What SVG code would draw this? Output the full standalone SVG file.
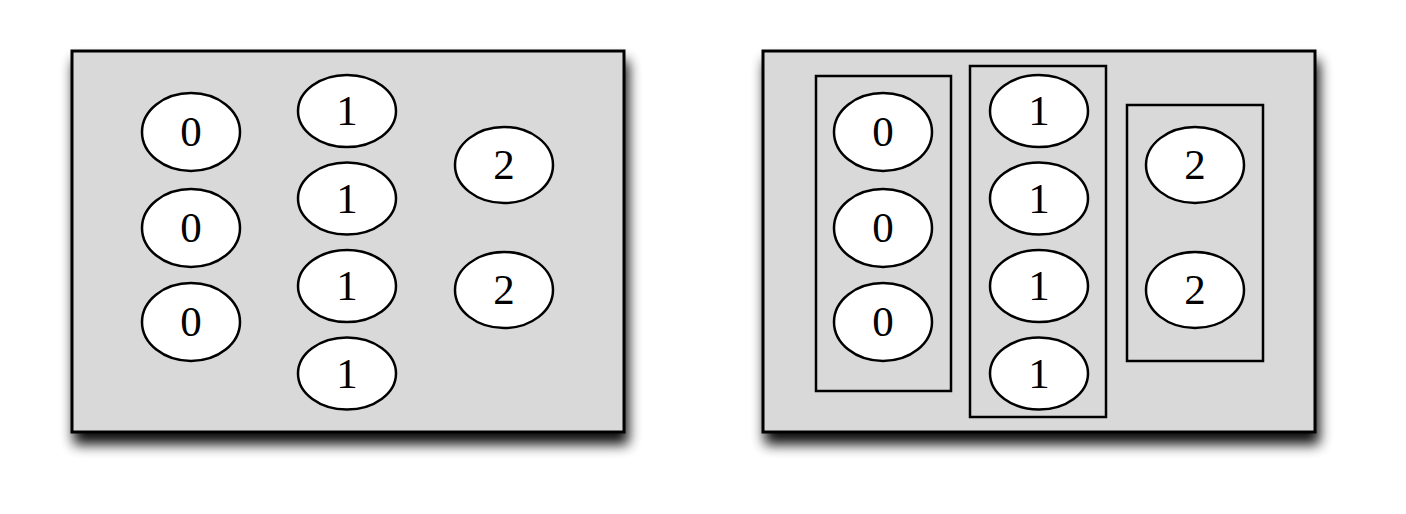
<svg xmlns="http://www.w3.org/2000/svg" width="1406" height="514" viewBox="0 0 1406 514">
<defs>
<filter id="sh" x="-10%" y="-10%" width="120%" height="135%">
<feGaussianBlur in="SourceAlpha" stdDeviation="6.5"/>
<feOffset dx="3" dy="11" result="b"/>
<feComponentTransfer><feFuncA type="linear" slope="0.95"/></feComponentTransfer>
<feMerge><feMergeNode/><feMergeNode in="SourceGraphic"/></feMerge>
</filter>
</defs>
<style>
.panel{fill:#d9d9d9;stroke:#000;stroke-width:3}
.grp{fill:none;stroke:#000;stroke-width:2.5}
.n ellipse{fill:#fff;stroke:#000;stroke-width:2.5}
.n text{font-family:"Liberation Serif","Times New Roman",serif;font-size:43px;text-anchor:middle;fill:#000}
</style>
<rect width="1406" height="514" fill="#fff"/>
<g id="panel-left">
<rect class="panel" x="72" y="51" width="552" height="381" filter="url(#sh)"/>
</g>
<g id="panel-right">
<rect class="panel" x="763" y="51" width="552" height="381" filter="url(#sh)"/>
<rect class="grp" x="816" y="76" width="135" height="315"/>
<rect class="grp" x="970" y="66" width="136" height="351"/>
<rect class="grp" x="1127" y="105" width="136" height="256"/>
</g>
<g id="connectors"></g>
<g id="L0a" class="n"><ellipse cx="191" cy="132" rx="49" ry="39"/><text x="191" y="146">0</text></g>
<g id="L0b" class="n"><ellipse cx="191" cy="228" rx="49" ry="39"/><text x="191" y="242">0</text></g>
<g id="L0c" class="n"><ellipse cx="191" cy="322" rx="49" ry="39"/><text x="191" y="336">0</text></g>
<g id="L1a" class="n"><ellipse cx="347" cy="111" rx="49" ry="36"/><text x="347" y="125">1</text></g>
<g id="L1b" class="n"><ellipse cx="347" cy="198.5" rx="49" ry="36"/><text x="347" y="212.5">1</text></g>
<g id="L1c" class="n"><ellipse cx="347" cy="286" rx="49" ry="36"/><text x="347" y="300">1</text></g>
<g id="L1d" class="n"><ellipse cx="347" cy="373.5" rx="49" ry="36"/><text x="347" y="387.5">1</text></g>
<g id="L2a" class="n"><ellipse cx="504" cy="165" rx="49" ry="38"/><text x="504" y="179">2</text></g>
<g id="L2b" class="n"><ellipse cx="504" cy="290" rx="49" ry="38"/><text x="504" y="304">2</text></g>
<g id="R0a" class="n"><ellipse cx="883" cy="132" rx="49" ry="39"/><text x="883" y="146">0</text></g>
<g id="R0b" class="n"><ellipse cx="883" cy="228" rx="49" ry="39"/><text x="883" y="242">0</text></g>
<g id="R0c" class="n"><ellipse cx="883" cy="322" rx="49" ry="39"/><text x="883" y="336">0</text></g>
<g id="R1a" class="n"><ellipse cx="1039" cy="111" rx="49" ry="36"/><text x="1039" y="125">1</text></g>
<g id="R1b" class="n"><ellipse cx="1039" cy="198.5" rx="49" ry="36"/><text x="1039" y="212.5">1</text></g>
<g id="R1c" class="n"><ellipse cx="1039" cy="286" rx="49" ry="36"/><text x="1039" y="300">1</text></g>
<g id="R1d" class="n"><ellipse cx="1039" cy="373.5" rx="49" ry="36"/><text x="1039" y="387.5">1</text></g>
<g id="R2a" class="n"><ellipse cx="1195" cy="165" rx="49" ry="38"/><text x="1195" y="179">2</text></g>
<g id="R2b" class="n"><ellipse cx="1195" cy="290" rx="49" ry="38"/><text x="1195" y="304">2</text></g>
</svg>
